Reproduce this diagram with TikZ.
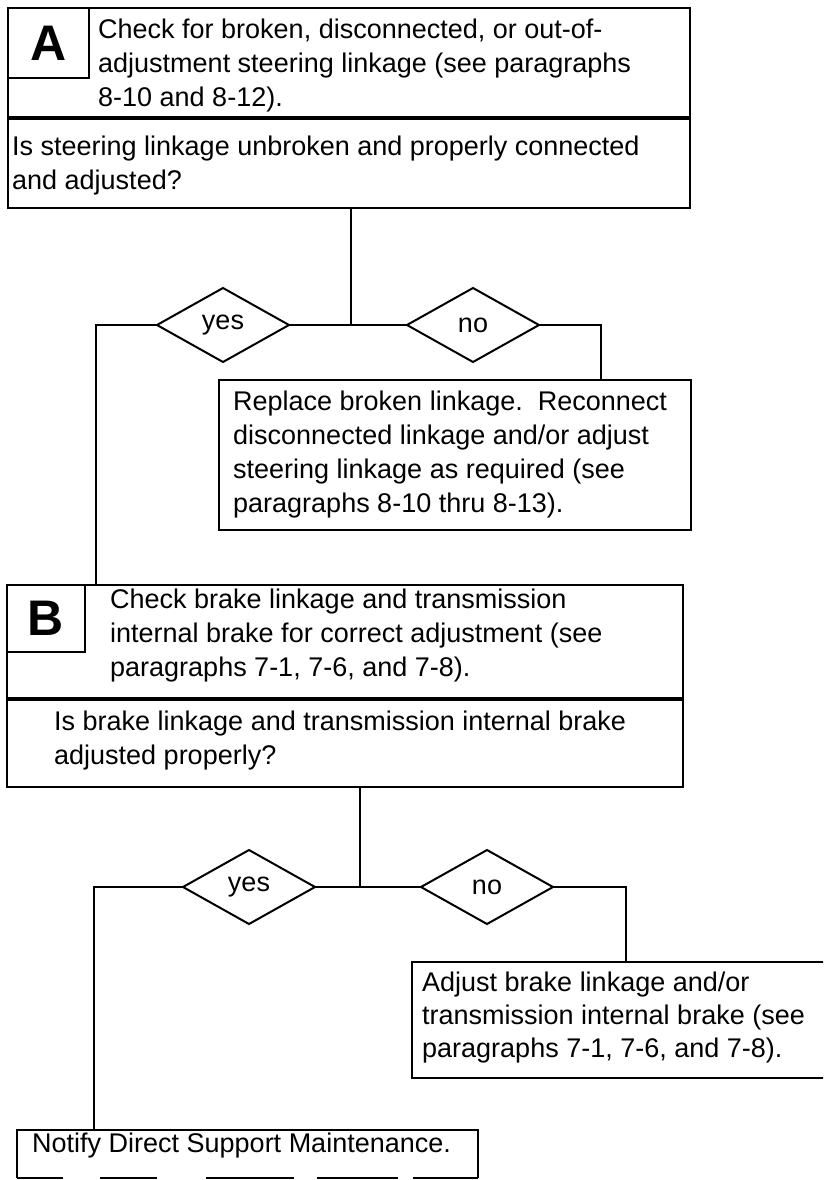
\documentclass[tikz,border=0pt]{standalone}
\usepackage{fontspec}
\setmainfont{Liberation Sans}
\usetikzlibrary{shapes.geometric}
% invisible rule that fixes the height of a first line above its baseline
\newcommand\lnstrut{\rule{0pt}{22pt}}
\begin{document}
\begin{tikzpicture}[x=1pt,y=-1pt,
  box/.style={draw, line width=2.2pt, anchor=north west, inner sep=0pt, outer sep=0pt},
  body/.style={anchor=north west, inner sep=0pt, align=left, font=\fontsize{27}{34}\selectfont},
  choice/.style={draw, shape=diamond, line width=2pt, minimum width=132pt, minimum height=74pt,
                 aspect=1.78, inner sep=0pt, outer sep=0pt, font=\fontsize{27}{34}\selectfont},
  wire/.style={line width=2pt},
  divider/.style={line width=4.5pt},
  tag/.style={inner sep=0pt, font=\fontsize{50}{50}\selectfont\bfseries}]
\useasboundingbox (0,0) rectangle (823,1180);
\clip (0,0) rectangle (823,1180);

% ---------- step A ----------
\node[box, minimum width=682pt, minimum height=200pt] (boxA) at (8,8) {};
\node[box, minimum width=81pt, minimum height=70pt] (tagboxA) at (8,8) {};
\node[tag] (tagA) at (tagboxA.center) {A};
\coordinate (divA) at (8,118);
\draw[divider] (divA) -- (divA -| boxA.east);
\node[body] (checkA) at (98,16) {\lnstrut Check for broken, disconnected, or out-of-\\
  adjustment steering linkage (see paragraphs\\ 8-10 and 8-12).};
\node[body] (askA) at (12,133) {\lnstrut Is steering linkage unbroken and properly connected\\
  and adjusted?};

\coordinate (jA) at (351,325);
\node[choice] (yesA) at (223,325) {yes};
\node[choice] (noA) at (473,325) {no};
\node[box, minimum width=472pt, minimum height=150pt] (fixA) at (219,380) {};
\node[body] (fixAtext) at (233,388) {\lnstrut Replace broken linkage.\ \ Reconnect\\
  disconnected linkage and/or adjust\\ steering linkage as required (see\\
  paragraphs 8-10 thru 8-13).};

\coordinate (leftA) at (96,325);
\coordinate (rightA) at (601,325);

% ---------- step B ----------
\node[box, minimum width=676pt, minimum height=202pt] (boxB) at (7,585) {};
\node[box, minimum width=78pt, minimum height=67pt] (tagboxB) at (7,585) {};
\node[tag] (tagB) at (tagboxB.center) {B};
\coordinate (divB) at (7,699);
\draw[divider] (divB) -- (divB -| boxB.east);
\node[body] (checkB) at (110,586) {\lnstrut Check brake linkage and transmission\\
  internal brake for correct adjustment (see\\ paragraphs 7-1, 7-6, and 7-8).};
\node[body] (askB) at (54,708) {\lnstrut Is brake linkage and transmission internal brake\\
  adjusted properly?};

\coordinate (jB) at (360,887);
\node[choice] (yesB) at (249,887) {yes};
\node[choice] (noB) at (487,887) {no};
\node[box, minimum width=430pt, minimum height=116pt] (fixB) at (412,962) {};
\node[body, font=\fontsize{27}{33}\selectfont] (fixBtext) at (422,969) {\lnstrut Adjust brake linkage and/or\\
  transmission internal brake (see\\ paragraphs 7-1, 7-6, and 7-8).};

\coordinate (leftB) at (94,887);
\coordinate (rightB) at (626,887);

% ---------- final step ----------
\node[anchor=north west, inner sep=0pt, outer sep=0pt, minimum width=461pt, minimum height=48pt] (note) at (17,1130) {};
\draw[line width=2.2pt] (note.south west) -- (note.north west) -- (note.north east) -- (note.south east);
\draw[line width=2.2pt, dash pattern=on 46pt off 37pt on 57pt off 49pt on 88pt off 23pt on 81pt off 15pt on 70pt]
  (note.south west) -- (note.south east);
\node[body] (notetext) at (32,1130) {\lnstrut Notify Direct Support Maintenance.};

% ---------- connectors ----------
\draw[wire] (jA |- boxA.south) -- (jA);
\draw[wire] (yesA.east) -- (noA.west);
\draw[wire] (yesA.west) -- (leftA) -- (leftA |- boxB.north);
\draw[wire] (noA.east) -- (rightA) -- (rightA |- fixA.north);

\draw[wire] (jB |- boxB.south) -- (jB);
\draw[wire] (yesB.east) -- (noB.west);
\draw[wire] (yesB.west) -- (leftB) -- (leftB |- note.north);
\draw[wire] (noB.east) -- (rightB) -- (rightB |- fixB.north);
\end{tikzpicture}
\end{document}
